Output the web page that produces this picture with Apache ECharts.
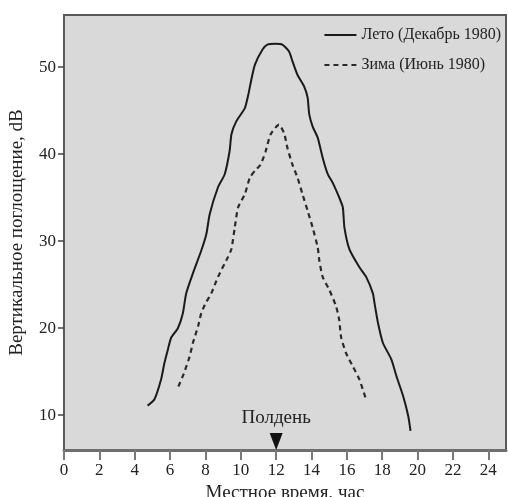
<!DOCTYPE html>
<html>
<head>
<meta charset="utf-8">
<script src="https://cdn.jsdelivr.net/npm/echarts@6/dist/echarts.min.js"></script>
<style>
    html, body { margin: 0; padding: 0; background: #fff; }
    #chart { width: 508px; height: 497px; }
</style>
</head>
<body>
<div id="chart"></div>
<script>
// данные
var xTicks = [0, 2, 4, 6, 8, 10, 12, 14, 16, 18, 20, 22, 24];
var yTicks = [10, 20, 30, 40, 50];

var summerName = 'Лето (Декабрь 1980)';
var summerHours = [4.73, 5.11, 5.49, 5.68, 5.87, 6.06, 6.44, 6.72, 6.91, 7.29, 7.76, 8.05, 8.24, 8.71, 9.09, 9.37, 9.47, 9.75, 10.23, 10.42, 10.61, 10.80, 11.22, 11.50, 11.97, 12.35, 12.73, 12.92, 13.21, 13.58, 13.78, 13.87, 14.06, 14.35, 14.63, 14.92, 15.20, 15.57, 15.77, 15.86, 16.14, 16.71, 17.09, 17.47, 17.57, 17.76, 18.04, 18.52, 18.80, 19.18, 19.47, 19.60];
var summerDb = [11.1, 11.8, 14.1, 16.0, 17.5, 18.9, 20.0, 21.7, 24.0, 26.3, 28.9, 30.8, 33.1, 36.2, 37.7, 40.4, 42.3, 43.8, 45.3, 46.8, 48.7, 50.3, 52.0, 52.6, 52.7, 52.6, 51.8, 50.7, 49.1, 47.8, 46.5, 44.6, 43.2, 41.9, 39.6, 37.7, 36.7, 35.0, 33.9, 31.6, 29.1, 27.0, 25.9, 24.0, 22.8, 20.6, 18.3, 16.4, 14.5, 12.2, 9.9, 8.2];

var winterName = 'Зима (Июнь 1980)';
var winterHours = [6.47, 6.78, 7.10, 7.29, 7.58, 7.76, 7.99, 8.33, 8.71, 9.28, 9.47, 9.66, 9.85, 10.23, 10.51, 10.80, 11.12, 11.40, 11.69, 12.16, 12.45, 12.64, 12.92, 13.21, 13.49, 13.78, 14.06, 14.35, 14.44, 14.63, 15.01, 15.39, 15.57, 15.67, 15.96, 16.34, 16.71, 16.91, 17.09];
var winterDb = [13.3, 14.8, 16.7, 18.3, 20.2, 21.7, 22.8, 24.0, 25.9, 28.2, 29.1, 31.6, 33.9, 35.4, 37.3, 38.1, 38.8, 40.3, 42.3, 43.4, 42.4, 40.7, 38.8, 37.3, 35.4, 33.5, 31.6, 29.3, 27.8, 25.9, 24.4, 22.5, 20.9, 19.0, 17.1, 15.6, 14.1, 12.9, 11.8];

var noonHour = 12;
var noonLabel = 'Полдень';

var xMin = 0, xMax = 25;
var yMin = 6, yMax = 56;

function pairs(xs, ys) {
    var out = [];
    for (var i = 0; i < xs.length; i++) {
        out.push([xs[i], ys[i]]);
    }
    return out;
}

var font = '"Liberation Serif", "DejaVu Serif", serif';
var myChart = echarts.init(document.getElementById('chart'), null, {renderer: 'canvas'});

var option = {
    animation: false,
    textStyle: {fontFamily: font, color: '#222'},
    grid: {
        left: 64,
        right: 2,
        top: 15,
        bottom: 47,
        outerBoundsMode: 'none',
        containLabel: false,
        show: true,
        backgroundColor: '#d9d9d9',
        borderColor: '#5a5a5a',
        borderWidth: 2
    },
    legend: {
        orient: 'vertical',
        right: 2,
        top: 22,
        itemWidth: 32,
        itemHeight: 14,
        itemGap: 14,
        itemStyle: {opacity: 0, borderWidth: 0},
        textStyle: {fontFamily: font, fontSize: 16, color: '#222'},
        data: [summerName, winterName]
    },
    xAxis: {
        type: 'value',
        min: xMin,
        max: xMax,
        name: 'Местное время, час',
        nameLocation: 'middle',
        nameGap: 31,
        nameTextStyle: {fontFamily: font, fontSize: 19, color: '#222'},
        axisLine: {lineStyle: {color: '#6e6e6e', width: 3}},
        axisTick: {
            show: true,
            length: 10,
            customValues: xTicks,
            lineStyle: {color: '#7a7a7a', width: 2}
        },
        axisLabel: {
            customValues: xTicks,
            fontFamily: font,
            fontSize: 17,
            color: '#222',
            margin: 12
        },
        splitLine: {show: false}
    },
    yAxis: {
        type: 'value',
        min: yMin,
        max: yMax,
        name: 'Вертикальное поглощение, dB',
        nameLocation: 'middle',
        nameGap: 37,
        nameTextStyle: {fontFamily: font, fontSize: 19, color: '#222'},
        axisLine: {show: true, lineStyle: {color: '#5a5a5a', width: 2}},
        axisTick: {
            show: true,
            length: 6,
            customValues: yTicks,
            lineStyle: {color: '#444', width: 1.5}
        },
        axisLabel: {
            customValues: yTicks,
            fontFamily: font,
            fontSize: 17,
            color: '#222',
            margin: 8
        },
        splitLine: {show: false}
    },
    series: [
        {
            name: summerName,
            type: 'line',
            smooth: 0.2,
            symbol: 'none',
            lineStyle: {color: '#1a1a1a', width: 2, type: 'solid'},
            itemStyle: {color: '#1a1a1a'},
            data: pairs(summerHours, summerDb),
            markPoint: {
                silent: true,
                symbol: 'triangle',
                symbolSize: [13, 17],
                symbolRotate: 180,
                symbolOffset: [0, -8.5],
                itemStyle: {color: '#111', opacity: 1},
                label: {
                    show: true,
                    position: 'top',
                    distance: 5,
                    formatter: noonLabel,
                    fontFamily: font,
                    fontSize: 19,
                    color: '#222'
                },
                data: [{coord: [noonHour, yMin]}]
            }
        },
        {
            name: winterName,
            type: 'line',
            smooth: 0.2,
            symbol: 'none',
            lineStyle: {color: '#2a2a2a', width: 2.2, type: [5, 4]},
            itemStyle: {color: '#2a2a2a'},
            data: pairs(winterHours, winterDb)
        }
    ]
};

myChart.setOption(option);
</script>
</body>
</html>
